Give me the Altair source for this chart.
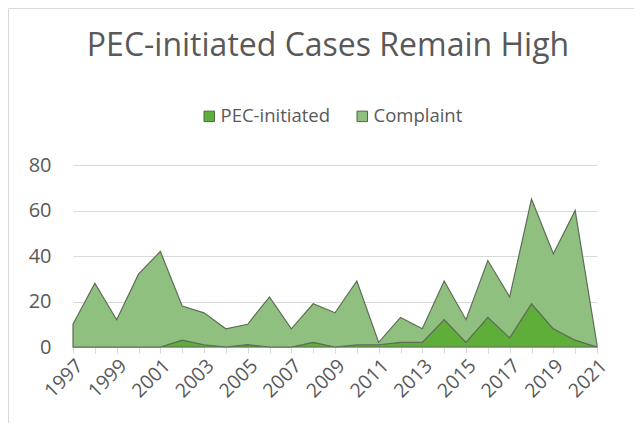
import altair as alt
import pandas as pd

years = list(range(1997, 2022))
pec = [0, 0, 0, 0, 0, 3, 1, 0, 1, 0, 0, 2, 0, 1, 1, 2, 2, 12, 2, 13, 4, 19, 8, 3, 0]
total = [10, 28, 12, 32, 42, 18, 15, 8, 10, 22, 8, 19, 15, 29, 2, 13, 8, 29, 12, 38, 22, 65, 41, 60, 1]
complaint = [t - p for t, p in zip(total, pec)]

series = ["PEC-initiated", "Complaint"]
colors = ["#5fae3a", "#8fc07f"]
title_text = "PEC-initiated Cases Remain High"

rows = []
for y, p, c in zip(years, pec, complaint):
    rows.append({"year": y, "series": "PEC-initiated", "value": p, "order": 0})
    rows.append({"year": y, "series": "Complaint", "value": c, "order": 1})
df = pd.DataFrame(rows)

FONT = "Open Sans"
GRAY = "#595959"
LINE = "#d9d9d9"

area = alt.Chart(df).mark_area(
    stroke="#5d6e55", strokeWidth=1.2, strokeJoin="miter", opacity=1
).encode(
    x=alt.X("year:Q",
            scale=alt.Scale(domain=[1997, 2021], nice=False, zero=False),
            axis=alt.Axis(values=years, labelExpr="datum.value % 2 == 1 ? datum.value : ''",
                          labelAngle=-45, labelAlign="right", labelBaseline="top",
                          labelFontSize=19.5, labelColor=GRAY, labelFont=FONT,
                          tickColor=LINE, tickSize=6, domainColor=LINE, domainWidth=1,
                          grid=False, title=None, labelPadding=3, labelOverlap=False)),
    y=alt.Y("value:Q", stack="zero",
            scale=alt.Scale(domain=[0, 80], nice=False),
            axis=alt.Axis(values=[0, 20, 40, 60, 80], labelFontSize=20, labelColor=GRAY,
                          labelFont=FONT, domain=False, ticks=False, gridColor=LINE,
                          gridWidth=1.2, title=None, labelPadding=22)),
    color=alt.Color("series:N", sort=series,
                    scale=alt.Scale(domain=series, range=colors),
                    legend=alt.Legend(orient="none", legendX=127, legendY=-58,
                                      direction="horizontal", title=None,
                                      symbolType="square", symbolSize=110,
                                      symbolStrokeColor="#4d6b3e", symbolStrokeWidth=1,
                                      labelFontSize=18.5, labelColor=GRAY, labelFont=FONT,
                                      columnPadding=22, symbolOffset=0, labelOffset=2)),
    order=alt.Order("order:Q"),
)

frame = alt.Chart(pd.DataFrame({"k": [0]})).mark_rect(
    fill=None, stroke=LINE, strokeWidth=1
).encode(x=alt.value(-64.5), x2=alt.value(700), y=alt.value(-156.5), y2=alt.value(400))

title = alt.Chart(pd.DataFrame({"t": [title_text]})).mark_text(
    font=FONT, fontSize=32, color=GRAY, align="center", baseline="middle"
).encode(text="t:N", x=alt.value(255), y=alt.value(-119))

chart = alt.layer(frame, area, title).properties(
    width=524, height=182,
    autosize=alt.AutoSizeParams(type="none"),
    padding={"left": 65, "top": 157, "right": 37, "bottom": 76},
).configure_view(stroke=None)

chart.save("out.html", embed_options={"renderer": "svg", "actions": False})
